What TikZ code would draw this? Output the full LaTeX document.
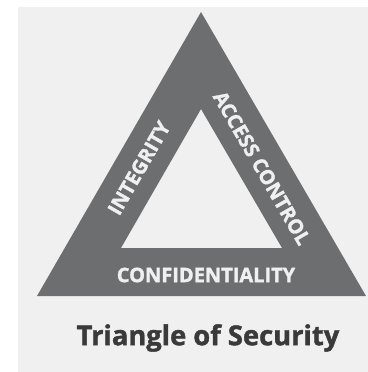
\documentclass[tikz,border=0pt]{standalone}
\usepackage{fontspec}
\setmainfont{Open Sans}
\newfontfamily\heavy[FakeBold=1.5]{Open Sans Bold}
\usepackage{tikz}

\definecolor{panel}{HTML}{F0F0F0}
\definecolor{slate}{HTML}{6D6E70}
\definecolor{ink}{HTML}{3A3A3A}

\tikzset{
  side/.style={text=panel, font=\heavy\fontsize{15}{15}\selectfont, inner sep=0pt},
}

\begin{document}
\begin{tikzpicture}[x=0.75pt, y=-0.75pt]
    \useasboundingbox (0,0) rectangle (368,372);
    \fill[panel] (18,7) rectangle (368,372);
    % outer and inner corners
    \coordinate (top) at (201,12);
    \coordinate (left) at (37,296);
    \coordinate (right) at (366,296);
    \coordinate (itop) at (201,109);
    \coordinate (ileft) at (121,248);
    \coordinate (iright) at (282,248);
    \fill[slate, even odd rule] (top) -- (left) -- (right) -- cycle
        (itop) -- (ileft) -- (iright) -- cycle;
    \node[side, rotate=60] (integrity) at (139,168) {INTEGRITY};
    \node[side, rotate=-60] (access) at (262,168) {ACCESS CONTROL};
    \node[side] (conf) at (206,275) {CONFIDENTIALITY};
    \node[text=ink, font=\heavy\fontsize{20.5}{20.5}\selectfont] (title) at (208,338) {Triangle of Security};
  \end{tikzpicture}
\end{document}
